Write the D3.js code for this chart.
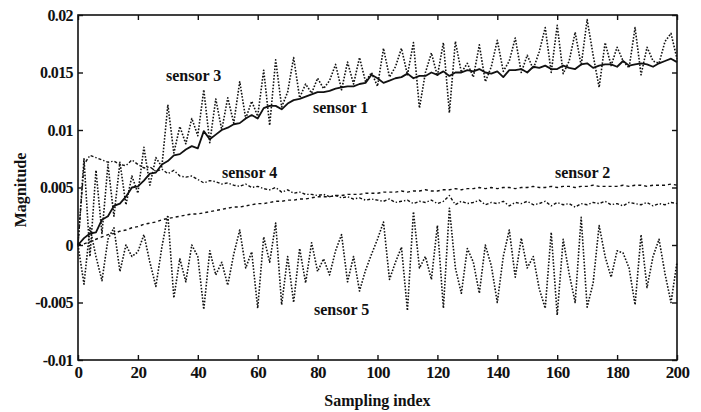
<!DOCTYPE html>
<html>
<head>
<meta charset="utf-8">
<script src="https://cdn.jsdelivr.net/npm/d3@7/dist/d3.min.js"></script>
<style>
  html, body { margin: 0; padding: 0; background: #fff; }
  svg { display: block; }
  text { font-family: "Liberation Serif", "DejaVu Serif", serif; font-weight: bold; fill: #111; }
</style>
</head>
<body>
<svg id="chart" width="701" height="412"></svg>
<script>
// Sampling index (every 2nd sample)
const sampleIndex = d3.range(0, 201, 2);

const xTicks = [0, 20, 40, 60, 80, 100, 120, 140, 160, 180, 200];
const yTicks = [-0.01, -0.005, 0, 0.005, 0.01, 0.015, 0.02];
const yTickLabels = ["-0.01", "-0.005", "0", "0.005", "0.01", "0.015", "0.02"];

const sensor1 = [0.0000,0.0006,0.0010,0.0011,0.0022,0.0025,0.0034,0.0036,0.0042,0.0050,
  0.0051,0.0056,0.0062,0.0063,0.0070,0.0073,0.0078,0.0079,0.0083,0.0086,
  0.0084,0.0099,0.0092,0.0096,0.0100,0.0102,0.0105,0.0106,0.0110,0.0113,
  0.0110,0.0119,0.0121,0.0121,0.0118,0.0123,0.0126,0.0127,0.0129,0.0131,
  0.0133,0.0133,0.0134,0.0136,0.0137,0.0138,0.0138,0.0140,0.0141,0.0148,
  0.0145,0.0141,0.0143,0.0145,0.0146,0.0149,0.0145,0.0147,0.0147,0.0150,
  0.0148,0.0151,0.0147,0.0150,0.0150,0.0152,0.0151,0.0153,0.0150,0.0149,
  0.0151,0.0146,0.0152,0.0152,0.0153,0.0150,0.0155,0.0154,0.0156,0.0153,
  0.0153,0.0156,0.0154,0.0153,0.0157,0.0158,0.0154,0.0156,0.0157,0.0157,
  0.0155,0.0160,0.0156,0.0157,0.0158,0.0157,0.0155,0.0158,0.0160,0.0162,0.0159];

const sensor2 = [0.0000,0.0001,0.0003,0.0005,0.0007,0.0009,0.0010,0.0012,0.0013,0.0015,
  0.0016,0.0018,0.0019,0.0020,0.0022,0.0023,0.0024,0.0025,0.0026,0.0027,
  0.0027,0.0028,0.0029,0.0030,0.0031,0.0032,0.0033,0.0033,0.0034,0.0035,
  0.0036,0.0036,0.0037,0.0038,0.0038,0.0039,0.0039,0.0040,0.0040,0.0041,
  0.0042,0.0042,0.0042,0.0043,0.0043,0.0044,0.0044,0.0044,0.0045,0.0045,
  0.0045,0.0046,0.0046,0.0046,0.0047,0.0046,0.0047,0.0047,0.0048,0.0047,
  0.0047,0.0048,0.0048,0.0049,0.0048,0.0049,0.0049,0.0050,0.0049,0.0050,
  0.0049,0.0050,0.0050,0.0049,0.0050,0.0050,0.0051,0.0050,0.0050,0.0051,
  0.0050,0.0051,0.0051,0.0050,0.0051,0.0051,0.0052,0.0051,0.0051,0.0051,
  0.0051,0.0052,0.0051,0.0052,0.0052,0.0051,0.0052,0.0052,0.0052,0.0053,0.0052];

const sensor3 = [0.0000,0.0075,-0.0010,0.0065,0.0010,0.0070,0.0025,0.0072,0.0035,0.0060,
  0.0045,0.0085,0.0052,0.0076,0.0068,0.0122,0.0080,0.0103,0.0088,0.0110,
  0.0095,0.0135,0.0089,0.0127,0.0100,0.0128,0.0106,0.0142,0.0110,0.0125,
  0.0112,0.0152,0.0104,0.0161,0.0120,0.0133,0.0163,0.0128,0.0140,0.0132,
  0.0145,0.0136,0.0143,0.0157,0.0135,0.0159,0.0140,0.0163,0.0142,0.0150,
  0.0138,0.0171,0.0146,0.0155,0.0171,0.0148,0.0176,0.0119,0.0150,0.0167,
  0.0147,0.0176,0.0115,0.0177,0.0150,0.0158,0.0146,0.0174,0.0142,0.0155,
  0.0178,0.0151,0.0160,0.0180,0.0150,0.0165,0.0153,0.0168,0.0189,0.0150,
  0.0191,0.0149,0.0160,0.0185,0.0156,0.0196,0.0165,0.0137,0.0176,0.0156,
  0.0172,0.0160,0.0154,0.0189,0.0148,0.0172,0.0160,0.0158,0.0177,0.0184,0.0162];

const sensor4 = [0.0000,0.0070,0.0078,0.0076,0.0074,0.0072,0.0073,0.0070,0.0069,0.0074,
  0.0070,0.0067,0.0068,0.0064,0.0066,0.0062,0.0065,0.0060,0.0059,0.0060,
  0.0057,0.0054,0.0056,0.0055,0.0053,0.0054,0.0052,0.0051,0.0053,0.0050,
  0.0051,0.0049,0.0048,0.0050,0.0046,0.0048,0.0045,0.0046,0.0044,0.0044,
  0.0043,0.0044,0.0042,0.0043,0.0041,0.0042,0.0040,0.0041,0.0039,0.0040,
  0.0039,0.0038,0.0040,0.0037,0.0038,0.0039,0.0036,0.0038,0.0037,0.0039,
  0.0036,0.0038,0.0043,0.0035,0.0038,0.0036,0.0037,0.0039,0.0035,0.0037,
  0.0036,0.0038,0.0034,0.0037,0.0036,0.0038,0.0035,0.0036,0.0038,0.0034,
  0.0037,0.0035,0.0036,0.0033,0.0036,0.0035,0.0037,0.0036,0.0038,0.0035,
  0.0036,0.0034,0.0037,0.0036,0.0035,0.0037,0.0034,0.0036,0.0035,0.0037,0.0036];

const sensor5 = [0.0000,-0.0034,0.0015,-0.0010,-0.0031,0.0005,0.0015,-0.0023,0.0000,-0.0010,
  -0.0006,0.0009,-0.0015,-0.0036,-0.0002,0.0026,-0.0046,-0.0012,-0.0032,0.0000,
  -0.0010,-0.0056,-0.0005,-0.0026,-0.0015,-0.0035,-0.0008,0.0013,-0.0020,-0.0006,
  -0.0055,0.0007,-0.0015,0.0019,-0.0052,-0.0010,-0.0050,-0.0003,-0.0033,0.0002,
  -0.0023,-0.0012,-0.0026,-0.0005,0.0009,-0.0032,-0.0010,-0.0040,-0.0022,-0.0008,
  0.0005,0.0020,-0.0030,-0.0015,-0.0002,-0.0057,0.0029,-0.0020,-0.0010,-0.0030,
  0.0017,-0.0055,0.0032,-0.0020,-0.0042,-0.0003,-0.0015,-0.0042,0.0000,-0.0018,
  -0.0050,-0.0010,0.0013,-0.0028,0.0006,-0.0020,-0.0010,-0.0038,-0.0055,0.0011,
  -0.0061,0.0005,-0.0025,-0.0050,0.0024,-0.0054,-0.0033,0.0017,-0.0010,-0.0028,
  -0.0005,-0.0007,-0.0020,-0.0052,0.0009,-0.0037,-0.0010,0.0005,-0.0025,-0.0050,-0.0015];

const seriesNames = ["sensor 1", "sensor 2", "sensor 3", "sensor 4", "sensor 5"];

// ---- layout ----
const mLeft = 78, mRight = 677, mTop = 15, mBottom = 360;

const svg = d3.select("#chart");
const x = d3.scaleLinear().domain([0, 200]).range([mLeft, mRight]);
const y = d3.scaleLinear().domain([-0.01, 0.02]).range([mBottom, mTop]);

const styles = {
  "sensor 1": { data: sensor1, width: 1.8, dash: null },
  "sensor 2": { data: sensor2, width: 1.4, dash: "3,3" },
  "sensor 3": { data: sensor3, width: 1.6, dash: "1.6,1.6" },
  "sensor 4": { data: sensor4, width: 1.4, dash: "3,2,1.4,2" },
  "sensor 5": { data: sensor5, width: 1.6, dash: "1.6,1.6" }
};

const line = d3.line().x(d => x(d[0])).y(d => y(d[1]));

const plot = svg.append("g");
["sensor 5", "sensor 2", "sensor 4", "sensor 3", "sensor 1"].forEach(name => {
  const s = styles[name];
  const pts = sampleIndex.map((xi, i) => [xi, s.data[i]]);
  plot.append("path")
    .datum(pts)
    .attr("d", line)
    .attr("fill", "none")
    .attr("stroke", "#111")
    .attr("stroke-width", s.width)
    .attr("stroke-linejoin", "round")
    .attr("stroke-dasharray", s.dash);
});

// frame
svg.append("rect")
  .attr("x", mLeft).attr("y", mTop)
  .attr("width", mRight - mLeft).attr("height", mBottom - mTop)
  .attr("fill", "none").attr("stroke", "#111").attr("stroke-width", 1.6);

// axes with inward ticks
const fmtY = d => yTickLabels[yTicks.indexOf(d)];
const axB = svg.append("g").attr("transform", `translate(0,${mBottom})`)
  .call(d3.axisBottom(x).tickValues(xTicks).tickSize(-5).tickPadding(6).tickFormat(d3.format("d")));
const axT = svg.append("g").attr("transform", `translate(0,${mTop})`)
  .call(d3.axisTop(x).tickValues(xTicks).tickSize(-5).tickFormat(""));
const axL = svg.append("g").attr("transform", `translate(${mLeft},0)`)
  .call(d3.axisLeft(y).tickValues(yTicks).tickSize(-5).tickPadding(5).tickFormat(fmtY));
const axR = svg.append("g").attr("transform", `translate(${mRight},0)`)
  .call(d3.axisRight(y).tickValues(yTicks).tickSize(-5).tickFormat(""));

[axB, axT, axL, axR].forEach(a => {
  a.select(".domain").remove();
  a.selectAll(".tick line").attr("stroke", "#111").attr("stroke-width", 1.4);
  a.selectAll(".tick text")
    .attr("font-family", "Liberation Serif, serif")
    .attr("font-weight", "bold")
    .attr("fill", "#111");
});
axB.selectAll(".tick text").attr("font-size", 17).attr("letter-spacing", -0.6);
axL.selectAll(".tick text").attr("font-size", 16).attr("letter-spacing", -0.6);

// axis titles
svg.append("text")
  .attr("x", (mLeft + mRight) / 2).attr("y", 406)
  .attr("text-anchor", "middle").attr("font-size", 16)
  .text("Sampling index");
svg.append("text")
  .attr("transform", `translate(26,190) rotate(-90)`)
  .attr("text-anchor", "middle").attr("font-size", 16)
  .text("Magnitude");

// series labels
const labelPos = {
  "sensor 3": [166, 81],
  "sensor 1": [313, 113],
  "sensor 4": [222, 178],
  "sensor 2": [555, 178],
  "sensor 5": [314, 315]
};
seriesNames.forEach(n => {
  svg.append("text")
    .attr("x", labelPos[n][0]).attr("y", labelPos[n][1])
    .attr("font-size", 16)
    .text(n);
});
</script>
</body>
</html>
